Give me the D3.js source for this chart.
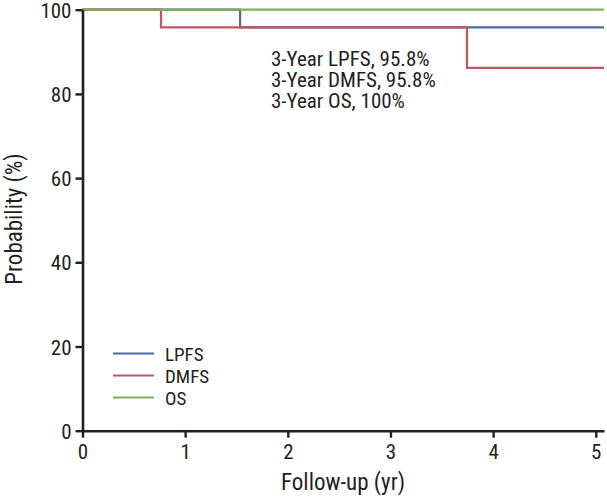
<!DOCTYPE html>
<html><head><meta charset="utf-8">
<script src="https://cdn.jsdelivr.net/npm/d3@7"></script>
<style>
body{margin:0;background:#fff;}
text{font-family:"Liberation Sans Narrow","Roboto Condensed","Arial Narrow",sans-serif;fill:#231f20;}
</style></head><body>
<svg id="c" width="607" height="500"></svg>
<script>
const seriesNames = ["LPFS", "DMFS", "OS"];
const seriesColors = ["#4c6aa3", "#c25563", "#80ad62"];
// step points: [time (yr), probability %]
const lpfs = [[0, 100], [1.535, 100], [1.535, 95.8], [5.08, 95.8]];
const dmfs = [[0, 100], [0.765, 100], [0.765, 95.8], [3.745, 95.8], [3.745, 86.2], [5.08, 86.2]];
const os = [[0, 100], [5.08, 100]];
const xTicks = [0, 1, 2, 3, 4, 5];
const yTicks = [0, 20, 40, 60, 80, 100];
const annotations = ["3-Year LPFS, 95.8%", "3-Year DMFS, 95.8%", "3-Year OS, 100%"];

const svg = d3.select("#c");
const x = d3.scaleLinear().domain([0, 5.08]).range([82.5, 604]);
const y = d3.scaleLinear().domain([0, 100]).range([430.7, 9.7]);

const line = d3.line().x(d => x(d[0])).y(d => y(d[1]));
[lpfs, dmfs, os].forEach((s, i) => {
  svg.append("path").attr("d", line(s)).attr("fill", "none")
    .attr("stroke", seriesColors[i]).attr("stroke-width", 2.2);
});

const xAxis = svg.append("g").attr("transform", `translate(0,${y(0)})`)
  .call(d3.axisBottom(x).tickValues(xTicks).tickFormat(d3.format("d")).tickSize(7).tickSizeOuter(0).tickPadding(5));
const yAxis = svg.append("g").attr("transform", `translate(${x(0)},0)`)
  .call(d3.axisLeft(y).tickValues(yTicks).tickFormat(d3.format("d")).tickSize(7).tickSizeOuter(0).tickPadding(4));
[xAxis, yAxis].forEach(g => {
  g.select(".domain").attr("stroke", "#231f20").attr("stroke-width", 2.6);
  g.selectAll(".tick line").attr("stroke", "#231f20").attr("stroke-width", 2.4);
  g.selectAll(".tick text").attr("font-size", 21).attr("fill", "#231f20")
    .style("font-family", '"Liberation Sans Narrow","Roboto Condensed",sans-serif');
});
xAxis.selectAll(".tick text").attr("dy", "0.8em");
yAxis.selectAll(".tick text").attr("dy", "0.36em");

svg.append("text").attr("x", 343).attr("y", 490).attr("text-anchor", "middle")
  .attr("font-size", 23).text("Follow-up (yr)");
svg.append("text").attr("transform", "translate(22,219) rotate(-90)")
  .attr("text-anchor", "middle").attr("font-size", 23).text("Probability (%)");

annotations.forEach((t, i) => {
  svg.append("text").attr("x", 271).attr("y", 66 + i * 20.8).attr("font-size", 21).text(t);
});

seriesNames.forEach((n, i) => {
  const yy = 353.5 + i * 22;
  svg.append("line").attr("x1", 113).attr("x2", 154).attr("y1", yy).attr("y2", yy)
    .attr("stroke", seriesColors[i]).attr("stroke-width", 2.2);
  svg.append("text").attr("x", 165).attr("y", yy + 7).attr("font-size", 19).text(n);
});
</script></body></html>
